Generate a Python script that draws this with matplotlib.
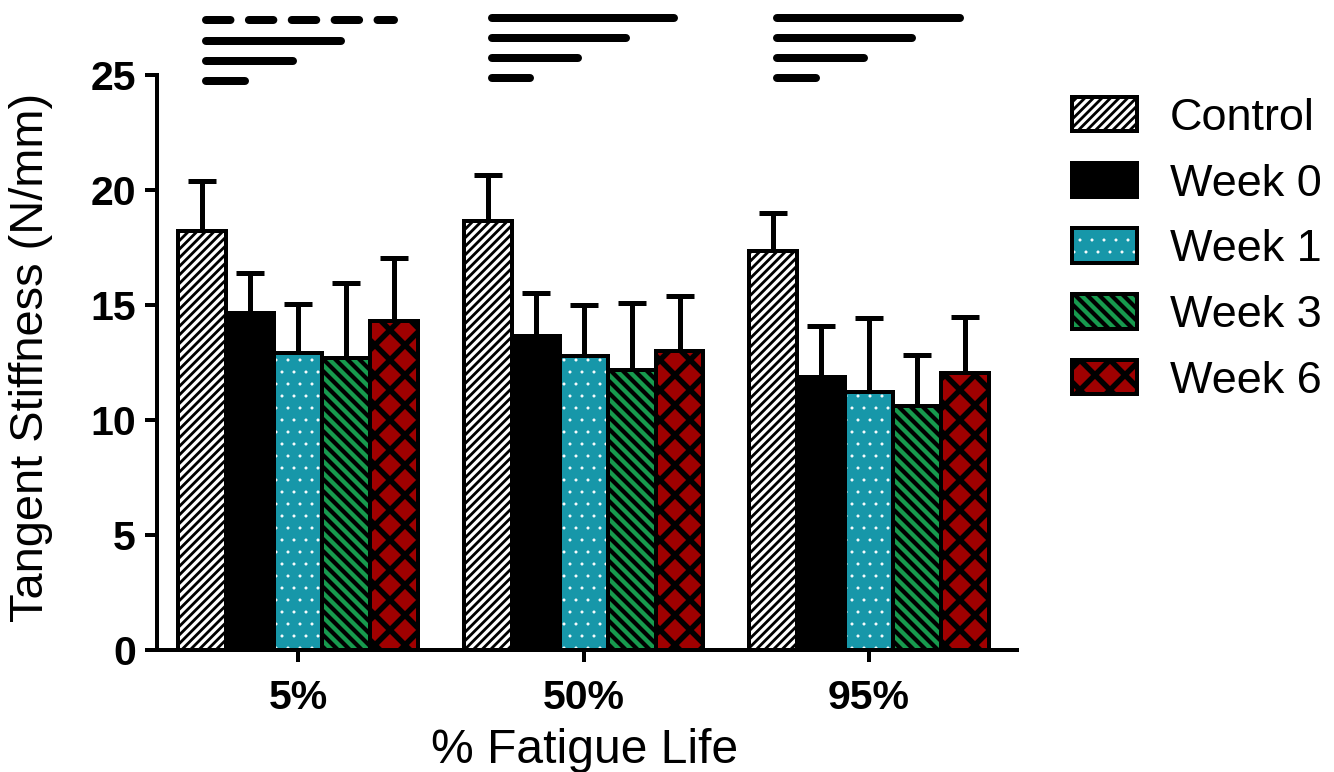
import matplotlib
matplotlib.use('Agg')
import matplotlib.pyplot as plt
import numpy as np
from matplotlib.patches import Patch, Rectangle
from matplotlib.legend_handler import HandlerTuple

DPI = 360
def px(v):
    return v * 72.0 / DPI

plt.rcParams['font.family'] = ['Liberation Sans', 'DejaVu Sans']

# ---------------- data ----------------
groups = ['5%', '50%', '95%']
series = ['Control', 'Week 0', 'Week 1', 'Week 3', 'Week 6']
control = [18.23, 18.67, 17.36]
week0 = [14.64, 13.67, 11.88]
week1 = [12.90, 12.78, 11.20]
week3 = [12.71, 12.17, 10.61]
week6 = [14.32, 13.00, 12.06]
control_err = [2.17, 1.98, 1.65]
week0_err = [1.74, 1.84, 2.22]
week1_err = [2.14, 2.22, 3.25]
week3_err = [3.23, 2.93, 2.22]
week6_err = [2.74, 2.40, 2.43]
# significance bars: Control vs Week 0 / 1 / 3 / 6 (heights above the axis)
sig_levels = [24.85, 25.72, 26.59, 27.46]

means = [control, week0, week1, week3, week6]
errs = [control_err, week0_err, week1_err, week3_err, week6_err]

# ---------------- styles ----------------
faces = ['white', 'black', '#1797A9', '#179A4E', '#A00000']
hatch_cols = ['black', 'black', 'white', 'black', 'black']
hatches = ['/' * 14, None, '.' * 5, '\\' * 10, 'x' * 4]
hatch_lws = [px(2.8), px(1), px(0.5), px(4.2), px(5.5)]

fig = plt.figure(figsize=(1334 / DPI, 772 / DPI), dpi=DPI)
ax = fig.add_axes([157 / 1334, (772 - 650) / 772, (1017 - 157) / 1334, 644 / 772])

x = np.arange(len(groups))
w = 0.168
edge_lw = px(4)


def set_hlw(p, lw):
    if hasattr(p, 'set_hatch_linewidth'):
        p.set_hatch_linewidth(lw)


for i, name in enumerate(series):
    xs = x + (i - 2) * w
    ax.errorbar(xs, means[i], yerr=[np.zeros(len(groups)), errs[i]], fmt='none',
                ecolor='black', elinewidth=px(5), capsize=px(14), capthick=px(5),
                zorder=1)
    with plt.rc_context({'hatch.linewidth': hatch_lws[i]}):
        if hatches[i] is not None:
            bars = ax.bar(xs, means[i], width=w, color=faces[i], edgecolor=hatch_cols[i],
                          linewidth=0, hatch=hatches[i], zorder=2)
            for b in bars:
                set_hlw(b, hatch_lws[i])
        ax.bar(xs, means[i], width=w, fill=(hatches[i] is None),
               facecolor=faces[i], edgecolor='black', linewidth=edge_lw, zorder=3,
               label=name)

# significance lines
inset = 0.018
for g in range(len(groups)):
    start = x[g] - 2 * w + 0.014
    off = -0.09 if g == 0 else 0.0
    for k, lev in enumerate(sig_levels):
        dashed = (g == 0 and k == 3)
        end = x[g] + (k - 1) * w - (0.0 if dashed else inset)
        ax.plot([start, end], [lev + off, lev + off], color='black', lw=px(8),
                solid_capstyle='round', dash_capstyle='round',
                linestyle=(0, (3.06, 2.3)) if dashed else '-', clip_on=False, zorder=4)

ax.set_xlim(-0.494, 2.518)
ax.set_ylim(0, 28)
ax.set_yticks([0, 5, 10, 15, 20, 25])
ax.set_xticks(x)
ax.set_xticklabels(groups)
for s in ['top', 'right']:
    ax.spines[s].set_visible(False)
for s in ['left', 'bottom']:
    ax.spines[s].set_linewidth(px(4))
ax.spines['left'].set_bounds(0, 25)
ax.tick_params(axis='both', length=px(12), width=px(4), labelsize=px(41))
ax.tick_params(axis='y', pad=px(9))
ax.tick_params(axis='x', pad=px(17))
for lab in ax.get_xticklabels() + ax.get_yticklabels():
    lab.set_fontweight('bold')

ax.set_ylabel('Tangent Stiffness (N/mm)', fontsize=px(47), va='center', ha='center')
ax.yaxis.set_label_coords(-0.1465, 0.454)
ax.set_xlabel('% Fatigue Life', fontsize=px(48), va='center', ha='center')
ax.xaxis.set_label_coords(0.4977, -0.1555)

# legend
handles = []
for i in range(len(series)):
    outline = Patch(facecolor=faces[i], edgecolor='black', linewidth=edge_lw,
                    fill=(hatches[i] is None))
    if hatches[i] is None:
        handles.append(outline)
    else:
        with plt.rc_context({'hatch.linewidth': hatch_lws[i]}):
            hp = Patch(facecolor=faces[i], edgecolor=hatch_cols[i], linewidth=0,
                       hatch=hatches[i])
        set_hlw(hp, hatch_lws[i])
        handles.append((hp, outline))

leg = fig.legend(handles, series, loc='upper left',
                 bbox_to_anchor=(1072 / 1334, (772 - 97) / 772),
                 frameon=False, fontsize=px(45), borderpad=0, borderaxespad=0,
                 handlelength=1.45, handleheight=0.8, handletextpad=0.72,
                 labelspacing=0.53,
                 handler_map={tuple: HandlerTuple(ndivide=1, pad=0)})

# legend copies of hatched patches: apply the same hatch line widths
for r in leg.findobj(Rectangle):
    h = r.get_hatch()
    if h:
        for i, hs in enumerate(hatches):
            if hs == h:
                set_hlw(r, hatch_lws[i])

fig.savefig('out.png', dpi=DPI, facecolor='white')
